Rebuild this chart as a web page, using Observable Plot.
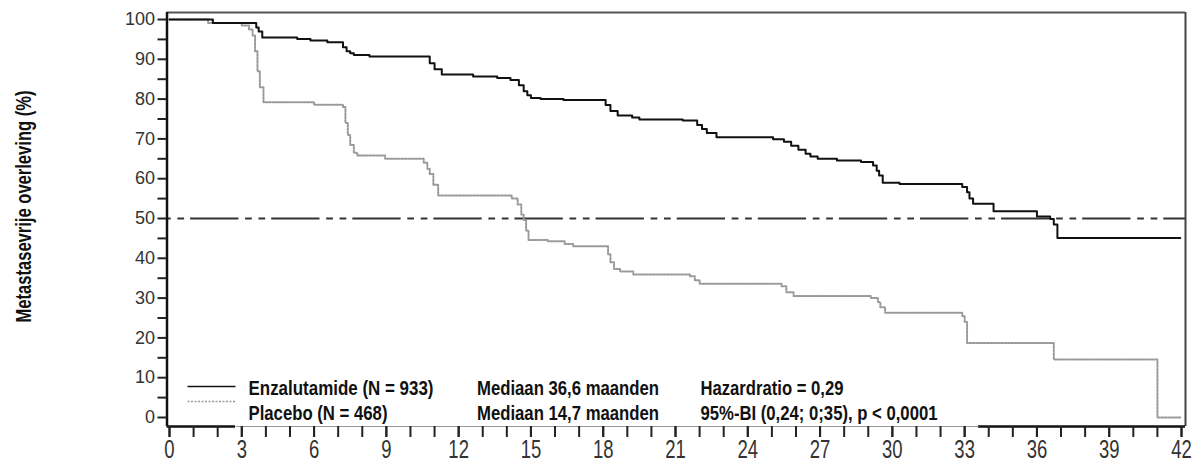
<!DOCTYPE html>
<html>
<head>
<meta charset="utf-8">
<script src="https://cdn.jsdelivr.net/npm/d3@7"></script>
<script src="https://cdn.jsdelivr.net/npm/@observablehq/plot@0.6"></script>
<style>
  html, body { margin: 0; padding: 0; background: #fff; }
  #chart svg { display: block; }
</style>
</head>
<body>
<div id="chart"></div>
<script>
// ---- Data ----
const enzaMonths = [0,1.8,3.6,3.7,3.85,5.3,5.85,6.55,7.2,7.35,7.5,7.65,8.3,10.8,11.0,11.3,12.6,13.6,14.15,14.5,14.7,14.85,15.0,15.4,16.35,18.1,18.3,18.6,19.2,19.5,21.3,21.9,22.1,22.3,22.7,25.05,25.5,25.8,26.1,26.4,26.6,26.9,27.7,28.7,29.2,29.35,29.45,29.6,30.3,32.9,33.1,33.2,33.35,34.2,36.0,36.55,36.7,36.85,41.95];
const enzaSurv   = [100,99.1,98,97,95.5,95.1,94.7,94.3,93,92,91.5,91.1,90.7,89,87.5,86.2,85.7,85.3,84.8,83.5,82,81,80.3,80.0,79.8,78.5,77,75.9,75.4,74.9,74.6,73.5,72.5,71.5,70.4,69.9,69.3,68.3,67.3,66.3,65.6,65.0,64.6,64.2,63.3,62,60.8,59.0,58.7,57.9,56.6,55,53.7,51.8,50.5,49.9,48.5,45.1,45.1];

const placeboMonths = [0,1.6,3.0,3.3,3.45,3.55,3.65,3.75,3.9,6.0,7.2,7.3,7.4,7.5,7.65,7.8,8.95,10.55,10.7,10.8,10.95,11.15,14.2,14.45,14.6,14.7,14.8,14.9,15.7,16.4,16.75,18.2,18.3,18.45,18.7,19.25,21.6,21.8,22.0,25.4,25.6,25.9,29.1,29.4,29.5,29.7,32.9,33.0,33.1,36.7,41.0,41.95];
const placeboSurv   = [100,99.1,98.5,97.5,96,92,87,83,79.2,78.6,78.0,74,71,68.5,66.5,65.8,65.0,64.0,62.5,61.2,58.5,55.8,55.0,53.5,51,49.6,47,44.6,44.3,43.6,43.0,41,39,37.3,36.7,35.9,35.5,34.5,33.6,33.0,31.5,30.5,30.0,29.0,27.7,26.3,25.5,24,18.7,14.6,0,0];

const xTickLabels = d3.range(0, 43, 3);      // 0,3,...,42
const xMinorTicks = d3.range(0, 43, 1);      // every month
const yTickLabels = d3.range(0, 101, 10);    // 0..100
const yMinorTicks = d3.range(5, 100, 10);    // 5..95
const medianLevel = [50];

const yTitle = "Metastasevrije overleving (%)";
const legendRow1 = ["Enzalutamide (N = 933)", "Mediaan 36,6 maanden", "Hazardratio = 0,29"];
const legendRow2 = ["Placebo (N = 468)", "Mediaan 14,7 maanden", "95%-BI (0,24; 0;35), p < 0,0001"];

// ---- Layout ----
const W = 1197, H = 462;
const mL = 166.5, mR = 12, mT = 12, mB = 36;
const xDomain = [-0.104, 42.166];
const yDomain = [-2.26, 101.76];
const invX = px => xDomain[0] + (px - mL) / (W - mL - mR) * (xDomain[1] - xDomain[0]);
const invY = py => yDomain[1] - (py - mT) / (H - mT - mB) * (yDomain[1] - yDomain[0]);

const enza = enzaMonths.map((t, i) => ({t, s: enzaSurv[i]}));
const placebo = placeboMonths.map((t, i) => ({t, s: placeboSurv[i]}));

const FONT = "'Liberation Sans', Arial, Helvetica, sans-serif";
const placeboStyle = {stroke: "#9a9a9a", strokeWidth: 2, strokeDasharray: "2,1.5"};
const enzaStyle = {stroke: "#111", strokeWidth: 2};

const box = {x1: invX(235), x2: invX(978), y1: invY(372), y2: invY(430)};
const colDx = [81.5, 310, 533.5];
const rowDy = [-38, -13];
// text widths (px) measured on the reference, used to condense the glyphs
const textWidths = {
  "Enzalutamide (N = 933)": 185, "Placebo (N = 468)": 139,
  "Mediaan 36,6 maanden": 182, "Mediaan 14,7 maanden": 182,
  "Hazardratio = 0,29": 143, "95%-BI (0,24; 0;35), p < 0,0001": 237,
  "Metastasevrije overleving (%)": 232
};

const legendText = (row, dy) => row.map((txt, i) =>
  Plot.text([txt], {frameAnchor: "bottom-left", text: d => d, dx: colDx[i], dy, fontWeight: "bold",
                    fontSize: 21, fill: "#111", textAnchor: "start", lineAnchor: "middle"}));

const chart = Plot.plot({
  width: W, height: H,
  marginLeft: mL, marginRight: mR, marginTop: mT, marginBottom: mB,
  style: {fontFamily: FONT, fontSize: "18px", color: "#333", background: "#fff", overflow: "visible"},
  x: {domain: xDomain, axis: null},
  y: {domain: yDomain, axis: null},
  marks: [
    // frame
    Plot.ruleY([yDomain[1]], {stroke: "#555", strokeWidth: 2}),
    Plot.ruleX([xDomain[1]], {stroke: "#444", strokeWidth: 2}),
    Plot.ruleY([yDomain[0]], {stroke: "#111", strokeWidth: 2.5}),
    // median reference
    Plot.ruleY(medianLevel, {stroke: "#333", strokeWidth: 2, strokeDasharray: "48.3,6.7,6.7,6.7,6.7,6", strokeDashoffset: 57.5}),
    // curves
    Plot.line(placebo, {x: "t", y: "s", curve: "step-after", ...placeboStyle}),
    Plot.line(enza, {x: "t", y: "s", curve: "step-after", ...enzaStyle}),
    // legend box
    Plot.rect([box], {x1: "x1", x2: "x2", y1: "y1", y2: "y2", fill: "#fff"}),
    Plot.link([box], {x1: "x1", x2: "x2", y1: () => yDomain[0], y2: () => yDomain[0], stroke: "#999", strokeWidth: 1}),
    Plot.link([{y: invY(386)}], {x1: () => invX(187), x2: () => invX(235), y1: "y", y2: "y", ...enzaStyle, strokeWidth: 1.5}),
    Plot.link([{y: invY(401)}], {x1: () => invX(187), x2: () => invX(235), y1: "y", y2: "y", ...placeboStyle, strokeWidth: 1.5}),
    ...legendText(legendRow1, rowDy[0]),
    ...legendText(legendRow2, rowDy[1]),
    // left axis line
    Plot.ruleX([xDomain[0]], {stroke: "#111", strokeWidth: 2.5}),
    // axes
    Plot.axisY({anchor: "left", ticks: yMinorTicks, tickFormat: () => "", tickSize: 9, stroke: "#222", strokeWidth: 2}),
    Plot.axisY({anchor: "left", ticks: yTickLabels, tickSize: 9, tickPadding: 3, stroke: "#222", strokeWidth: 2, fontSize: 18, fill: "#333"}),
    Plot.axisX({anchor: "bottom", ticks: xMinorTicks, tickFormat: () => "", tickSize: 11, stroke: "#222", strokeWidth: 2}),
    Plot.axisX({anchor: "bottom", ticks: xTickLabels, tickSize: 11, tickPadding: 3, stroke: "#222", strokeWidth: 2, fontSize: 25, fill: "#333"}),
    // y title
    Plot.text([yTitle], {frameAnchor: "left", text: d => d, rotate: -90, dx: -143.5, dy: -13, fontWeight: "bold",
                         fontSize: 22, fill: "#111", textAnchor: "middle", lineAnchor: "middle"})
  ]
});

// condense texts to the reference widths
const svg = d3.select(chart.tagName === "svg" ? chart : chart.querySelector("svg"));
svg.selectAll("text").each(function() {
  const w = textWidths[this.textContent];
  if (w) { this.setAttribute("textLength", w); this.setAttribute("lengthAdjust", "spacingAndGlyphs"); }
});
// narrow, tall x tick labels
svg.selectAll("g[aria-label='x-axis tick label'] text").each(function() {
  let tr = this.getAttribute("transform");
  if (!tr) {
    const x = +this.getAttribute("x") || 0, y = +this.getAttribute("y") || 0;
    this.removeAttribute("x"); this.removeAttribute("y");
    tr = `translate(${x},${y})`;
  }
  this.setAttribute("transform", tr + " scale(0.74,1)");
});
document.getElementById("chart").appendChild(chart);
</script>
</body>
</html>
